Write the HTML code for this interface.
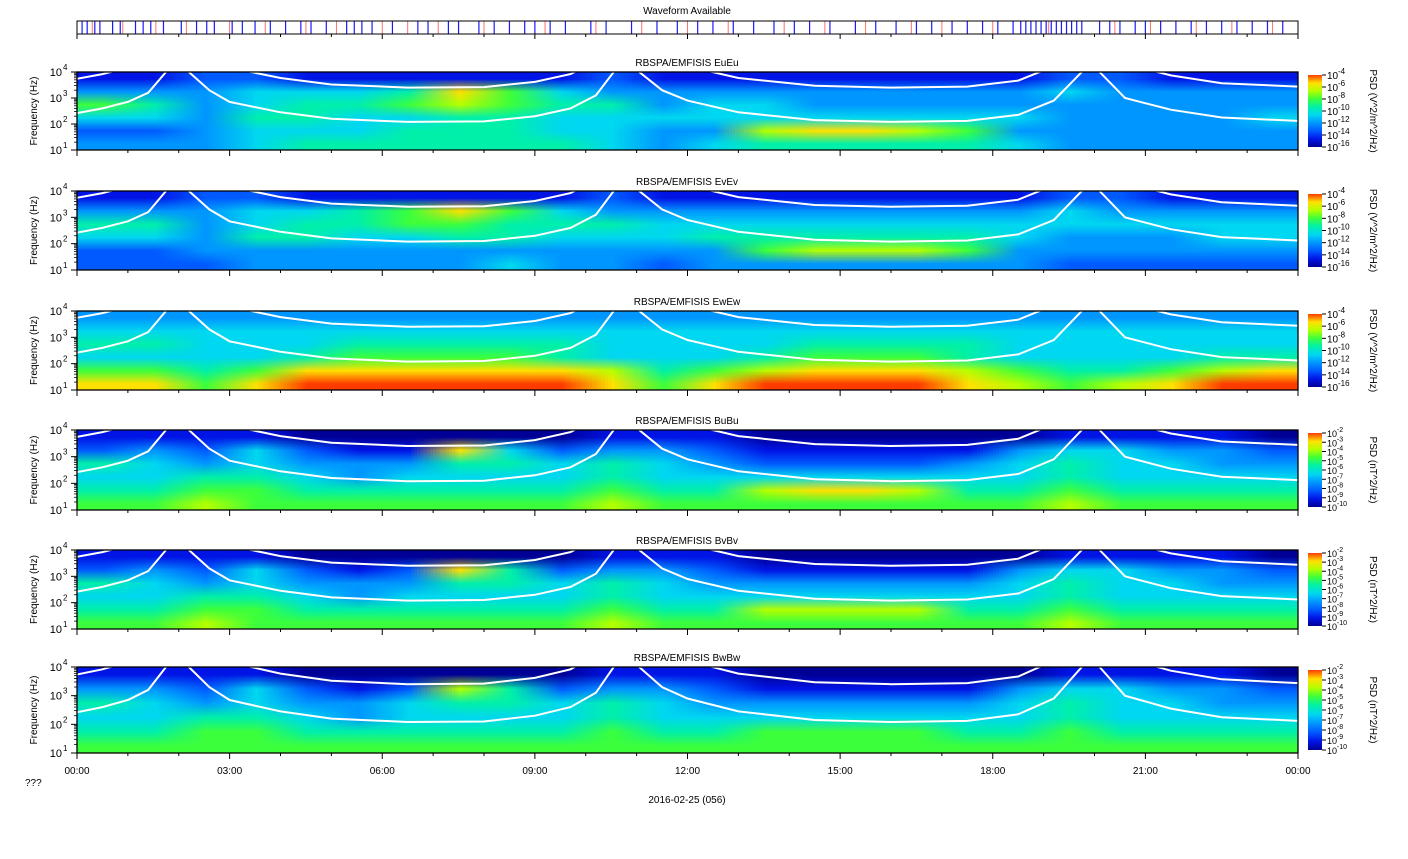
<!DOCTYPE html>
<html><head><meta charset="utf-8">
<style>
html,body{margin:0;padding:0;background:#fff;}
#root{position:relative;width:1408px;height:859px;overflow:hidden;font-family:"Liberation Sans",sans-serif;}
canvas.spec{position:absolute;image-rendering:auto;}
svg{position:absolute;left:0;top:0;}
</style></head>
<body>
<div id="root">
<svg id="ov" width="1408" height="859"></svg>
</div>
<script>
// ---- data ----
const panelTitles = ["RBSPA/EMFISIS  EuEu","RBSPA/EMFISIS  EvEv","RBSPA/EMFISIS  EwEw","RBSPA/EMFISIS  BuBu","RBSPA/EMFISIS  BvBv","RBSPA/EMFISIS  BwBw"];
const cbTitles = ["PSD (V^2/m^2/Hz)","PSD (V^2/m^2/Hz)","PSD (V^2/m^2/Hz)","PSD (nT^2/Hz)","PSD (nT^2/Hz)","PSD (nT^2/Hz)"];
const cbExpE = [-4,-6,-8,-10,-12,-14,-16];
const cbExpB = [-2,-3,-4,-5,-6,-7,-8,-9,-10];
const xTickLabels = ["00:00","03:00","06:00","09:00","12:00","15:00","18:00","21:00","00:00"];
const yExp = [1,2,3,4];
// spectrogram levels (0..9), 24 hourly bins, rows top (10^4 Hz) to bottom (10^1 Hz)
const specEu = [
[1,1,2,2,1,1,1,1,1,1,2,1,1,1,1,1,1,1,1,2,2,1,1,1],
[3,3,3,4,4,4,5,8,6,4,3,3,3,3,3,3,3,3,3,4,3,3,3,3],
[6,5,3,4,5,5,6,7,6,5,5,3,4,4,3,3,3,3,3,3,3,3,3,3],
[4,4,3,5,5,4,4,5,5,4,4,4,4,4,4,4,4,4,4,3,3,3,3,4],
[2,2,3,4,4,4,5,5,5,4,4,3,3,7,8,8,7,6,3,3,3,3,3,3],
[3,3,3,4,5,5,5,5,5,5,4,3,4,5,5,5,5,5,4,3,3,3,3,3]];
const specEv = [
[1,1,2,2,1,1,1,1,1,1,2,1,1,1,1,1,1,1,1,2,2,1,1,1],
[3,3,3,4,4,5,6,8,6,4,3,3,3,3,3,3,3,3,3,4,3,3,3,3],
[5,5,3,4,5,5,6,6,5,5,5,4,4,4,4,4,4,4,4,4,4,4,4,4],
[4,4,3,5,5,4,4,5,5,4,4,4,5,5,5,5,5,5,4,3,3,3,4,4],
[2,2,3,3,3,3,3,3,3,3,3,3,3,6,7,7,7,6,3,3,3,3,3,3],
[2,2,2,3,3,3,3,3,4,3,3,2,3,3,3,3,3,3,3,2,2,2,2,2]];
const specEw = [
[3,3,3,3,3,3,3,3,3,3,3,3,3,3,3,3,3,3,3,3,3,3,3,3],
[4,4,4,4,4,4,4,4,4,4,4,4,4,4,4,4,4,4,4,4,4,4,4,4],
[5,5,4,4,4,5,5,5,5,5,4,4,4,4,5,5,5,5,4,4,4,4,4,4],
[4,4,4,4,5,6,6,6,6,5,4,4,4,5,6,6,6,5,4,4,4,4,5,5],
[6,6,5,6,8,8,8,8,8,8,7,5,6,7,8,8,8,7,6,5,5,6,7,8],
[8,8,6,8,9,9,9,9,9,9,8,6,8,9,9,9,9,8,7,6,7,8,9,9]];
const specBu = [
[1,1,1,1,0,0,0,0,0,0,1,1,1,0,0,0,0,0,0,1,1,1,1,0],
[2,3,2,4,2,1,1,8,4,2,3,3,2,1,1,1,1,1,3,4,4,3,3,2],
[5,4,3,4,3,3,3,5,5,4,5,4,3,2,2,2,2,3,4,5,4,4,3,3],
[4,4,5,5,4,3,4,4,4,4,5,4,4,4,4,4,4,4,4,5,4,4,4,4],
[5,5,6,6,5,5,5,5,5,5,6,5,5,7,8,8,7,5,5,6,5,5,5,5],
[6,6,7,6,6,6,6,6,6,6,7,6,6,6,6,6,6,6,6,7,6,6,6,6]];
const specBv = [
[1,1,1,1,0,0,0,0,0,0,1,1,1,0,0,0,0,0,0,1,1,1,1,0],
[2,3,2,4,2,1,2,8,5,2,3,3,2,1,1,1,1,1,3,4,4,3,3,2],
[5,4,3,4,3,3,3,5,5,4,5,4,3,3,3,3,3,3,4,5,4,4,3,3],
[4,4,5,5,4,3,4,4,4,4,5,4,4,4,4,4,4,4,4,5,4,4,4,4],
[5,5,6,6,5,5,5,5,5,5,6,5,5,7,7,7,7,5,5,6,5,5,5,5],
[6,6,7,6,6,6,6,6,6,6,7,6,6,6,6,6,6,6,6,7,6,6,6,6]];
const specBw = [
[1,1,1,1,0,0,0,0,0,0,1,1,1,0,0,0,0,0,0,1,1,1,1,0],
[3,3,2,4,2,1,2,7,5,2,3,3,2,1,1,1,1,1,3,4,4,3,3,2],
[5,4,3,4,3,3,4,5,5,4,5,4,3,3,3,3,3,3,4,5,4,4,3,3],
[4,4,5,5,4,3,4,4,4,4,5,4,4,4,4,4,4,4,4,5,4,4,4,4],
[5,5,6,6,5,5,5,5,5,5,6,5,5,6,6,6,6,5,5,6,5,5,5,5],
[6,6,6,6,6,6,6,6,6,6,6,6,6,6,6,6,6,6,6,6,6,6,6,6]];
const specs = [specEu,specEv,specEw,specBu,specBv,specBw];
// cyclotron-like white curve (log10 Hz) vs hour
const curveHours = [0,0.5,1.0,1.4,1.75,1.97,2.2,2.6,3.0,4,5,6.5,8,9,9.7,10.2,10.55,10.8,11.05,11.5,12,13,14.5,16,17.5,18.5,19.2,19.75,19.92,20.1,20.6,21.5,22.5,24];
const curveLog   = [2.42,2.6,2.85,3.2,4,5,4,3.3,2.85,2.45,2.2,2.08,2.1,2.3,2.6,3.1,4,5,4,3.3,2.9,2.45,2.15,2.08,2.12,2.35,2.9,4,5,4,3.0,2.55,2.25,2.12];
const upperOffset = 1.32;
// waveform availability (hours)
const waveBlue = [0.1,0.2,0.35,0.45,0.7,0.85,1.15,1.3,1.45,1.7,2.05,2.35,2.55,2.7,3.05,3.25,3.5,3.8,4.1,4.4,4.6,4.9,5.3,5.45,5.6,5.8,6.2,6.7,6.9,7.3,7.5,7.9,8.2,8.5,8.8,9.0,9.3,9.6,10.1,10.4,10.9,11.4,11.8,12.2,12.5,12.9,13.3,13.7,14.1,14.4,14.8,15.3,15.7,16.1,16.5,16.8,17.2,17.5,17.8,18.1,18.4,18.55,18.65,18.75,18.85,18.95,19.05,19.15,19.25,19.35,19.45,19.55,19.65,19.75,20.1,20.3,20.5,20.8,21.0,21.3,21.6,21.9,22.2,22.5,22.8,23.1,23.4,23.7];
const waveRed = [0.3,0.9,1.55,2.15,3.0,3.7,4.5,5.1,6.0,6.5,7.1,8.0,9.2,10.2,11.1,12.0,12.8,13.9,14.7,15.5,16.4,17.0,18.0,19.1,20.4,21.1,22.0,22.7,23.5];

// ---- geometry ----
const X0=77, X1=1298;
const tops=[72,191,311,430,550,667], bots=[150,270,390,510,629,753];
const xs = h => X0 + (X1-X0)*h/24;
const NS='http://www.w3.org/2000/svg';
const ov=document.getElementById('ov');
const root=document.getElementById('root');
function mk(tag,attrs,parent){const e=document.createElementNS(NS,tag);for(const k in attrs)e.setAttribute(k,attrs[k]);(parent||ov).appendChild(e);return e;}
const cstops=[[0,0,150],[0,20,230],[0,90,255],[0,150,255],[0,215,240],[0,240,170],[60,255,60],[180,255,0],[255,225,0],[255,60,0]];
function col(v){const c=cstops[Math.max(0,Math.min(9,v))];return c;}

// waveform strip
let wt=mk('text',{x:687,y:14,'text-anchor':'middle','font-size':10});
wt.textContent='Waveform Available';


waveBlue.forEach(h=>{const l=mk('line',{x1:xs(h),x2:xs(h),y1:21,y2:34,stroke:'#1a1aff','stroke-width':1.2});

});
waveRed.forEach(h=>{const l=mk('line',{x1:xs(h),x2:xs(h),y1:21,y2:34,stroke:'#ff7070','stroke-width':1});

});
let wf=mk('rect',{x:X0,y:21,width:X1-X0,height:13,fill:'none',stroke:'#000','stroke-width':1});


for(let h=0;h<=24;h++){const tl=mk('line',{x1:xs(h),x2:xs(h),y1:34,y2:h%3?37:39,stroke:'#000'});

}

// defs gradient for colorbar
const defs=mk('defs',{});
const lg=mk('linearGradient',{id:'cbg',x1:0,y1:1,x2:0,y2:0},defs);
cstops.forEach((c,i)=>mk('stop',{offset:i/9,'stop-color':`rgb(${c})`},lg));

specs.forEach((sp,p)=>{
  const T=tops[p],B=bots[p],H=B-T;
  const ys = lg10 => B - (lg10-1)/3*H;
  // spectrogram canvas
  const cv=document.createElement('canvas');
  cv.width=sp[0].length;cv.height=sp.length;
  cv.className='spec';
  cv.style.left=X0+'px';cv.style.top=T+'px';cv.style.width=(X1-X0)+'px';cv.style.height=H+'px';
  
  
  root.insertBefore(cv,ov);
  const ctx=cv.getContext('2d');const img=ctx.createImageData(cv.width,cv.height);
  sp.forEach((row,r)=>row.forEach((v,c)=>{const k=(r*cv.width+c)*4;const cc=col(v);img.data[k]=cc[0];img.data[k+1]=cc[1];img.data[k+2]=cc[2];img.data[k+3]=255;}));
  ctx.putImageData(img,0,0);
  // clip + curves
  const cp=mk('clipPath',{id:'clip'+p},defs);
  mk('rect',{x:X0,y:T,width:X1-X0,height:H},cp);
  [0,upperOffset].forEach((off,j)=>{
    let d='';
    for(let i=0;i<curveHours.length;i++){d+=(i?'L':'M')+xs(curveHours[i]).toFixed(1)+','+ys(curveLog[i]+off).toFixed(1);}
    const pth=mk('path',{d:d,fill:'none',stroke:'#fff','stroke-width':2,'clip-path':`url(#clip${p})`});
    
    
  });
  const fr=mk('rect',{x:X0,y:T,width:X1-X0,height:H,fill:'none',stroke:'#000','stroke-width':1.3});
  
  
  const tt=mk('text',{x:687,y:T-6,'text-anchor':'middle','font-size':10});
  tt.textContent=panelTitles[p];
  
  
  // y ticks
  yExp.forEach(e=>{
    const y=ys(e);
    const mt=mk('line',{x1:X0-6,x2:X0,y1:y,y2:y,stroke:'#000'});
    
    
    const lb=mk('text',{x:62,y:y+4,'text-anchor':'end','font-size':11});
    lb.textContent='10';
    
    
    const sx=mk('text',{x:63,y:y-2,'font-size':8});
    sx.textContent=String(e);
    
    
    if(e<4)for(let m=2;m<10;m++){const yy=ys(e+Math.log10(m));
      const mn=mk('line',{x1:X0-3,x2:X0,y1:yy,y2:yy,stroke:'#000','stroke-width':0.8});
      
      }
  });
  const yl=mk('text',{x:0,y:0,'text-anchor':'middle','font-size':10,transform:`translate(37,${(T+B)/2}) rotate(-90)`});
  yl.textContent='Frequency (Hz)';
  
  
  // x ticks
  for(let h=0;h<=24;h++){const xt=mk('line',{x1:xs(h),x2:xs(h),y1:B,y2:B+(h%3?3:6),stroke:'#000'});
    
    }
  // colorbar
  const cb=mk('rect',{x:1308,y:T+3,width:14,height:H-6,fill:'url(#cbg)'});
  
  
  const ex = p<3?cbExpE:cbExpB;
  ex.forEach((e,i)=>{
    const y=T+3+(H-6)*i/(ex.length-1);
    const ct=mk('line',{x1:1322,x2:1326,y1:y,y2:y,stroke:'#000'});
    
    
    const fs=p<3?10:9;
    const cl=mk('text',{x:1327,y:y+4,'font-size':fs});
    cl.textContent='10';
    
    
    const ce=mk('text',{x:1327+fs*1.1,y:y-1,'font-size':fs-2});
    ce.textContent=String(e);
    
    
  });
  const cbt=mk('text',{x:0,y:0,'text-anchor':'middle','font-size':10,transform:`translate(1370,${(T+B)/2}) rotate(90)`});
  cbt.textContent=cbTitles[p];
  
  
});
xTickLabels.forEach((s,i)=>{
  const t=mk('text',{x:xs(i*3),y:774,'text-anchor':'middle','font-size':10});
  t.textContent=s;
  
  
});
let q=mk('text',{x:25,y:786,'font-size':10});
q.textContent='???';


let dt=mk('text',{x:687,y:803,'text-anchor':'middle','font-size':10});
dt.textContent='2016-02-25 (056)';


</script>
</body></html>
